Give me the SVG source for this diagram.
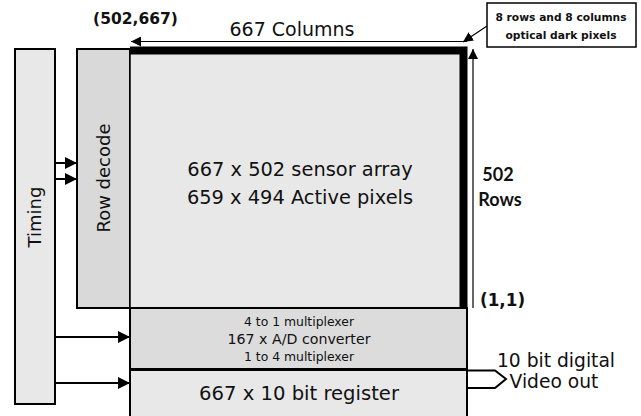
<svg xmlns="http://www.w3.org/2000/svg" width="641" height="416" viewBox="0 0 641 416">
<style>
text{font-family:"DejaVu Sans",Verdana,sans-serif;fill:#111}
.b{font-weight:bold}
.lb{font-family:Lato,"DejaVu Sans",sans-serif;font-weight:bold}
.box{stroke:#000;stroke-width:2}
.ln{stroke:#000;stroke-width:2;fill:none}
</style>
<defs>
<marker id="ah" viewBox="0 0 10 10" refX="10" refY="5" markerWidth="10" markerHeight="10" markerUnits="userSpaceOnUse" orient="auto"><path d="M0,0L10,5L0,10z" fill="#000"/></marker>
<marker id="ahb" viewBox="0 0 10 10" refX="10" refY="5" markerWidth="12" markerHeight="12" markerUnits="userSpaceOnUse" orient="auto"><path d="M0,0L10,5L0,10z" fill="#000"/></marker>
</defs>
<rect width="641" height="416" fill="#fff"/>
<g id="timing">
<rect class="box" x="15" y="49" width="40" height="355" fill="#e8e8e8"/>
<text transform="translate(41,217) rotate(-90)" font-size="18" text-anchor="middle">Timing</text>
</g>
<g id="rowdecode">
<rect class="box" x="77" y="49" width="53" height="259" fill="#d9d9d9"/>
<text transform="translate(110,178) rotate(-90)" font-size="18" text-anchor="middle">Row decode</text>
</g>
<g id="array">
<rect x="130" y="49" width="333" height="259" fill="#e8e8e8" stroke="#000" stroke-width="1.5"/>
<path d="M130,50.5H463.5V308" fill="none" stroke="#000" stroke-width="8"/>
<text x="300" y="176" font-size="19.4" text-anchor="middle">667 x 502 sensor array</text>
<text x="300" y="204" font-size="19.4" text-anchor="middle">659 x 494 Active pixels</text>
</g>
<g id="mux">
<rect class="box" x="130" y="308" width="337" height="61" fill="#dcdcdc"/>
<text x="299" y="326" font-size="12.4" text-anchor="middle">4 to 1 multiplexer</text>
<text x="299" y="344" font-size="14.2" text-anchor="middle">167 x A/D converter</text>
<text x="299" y="361" font-size="12.4" text-anchor="middle">1 to 4 multiplexer</text>
</g>
<g id="register">
<rect x="130" y="369" width="337" height="50" fill="#e8e8e8" stroke="#000" stroke-width="2"/>
<line x1="130" y1="369.5" x2="467" y2="369.5" stroke="#000" stroke-width="3"/>
<text x="299" y="400" font-size="19.6" text-anchor="middle">667 x 10 bit register</text>
</g>
<g id="callout">
<rect x="487" y="3" width="149" height="44" fill="#fff" stroke="#000" stroke-width="1.5"/>
<text class="b" x="561" y="21" font-size="10.7" text-anchor="middle">8 rows and 8 columns</text>
<text class="b" x="561" y="39" font-size="10.7" text-anchor="middle">optical dark pixels</text>
</g>
<g id="labels">
<text class="b" x="135.5" y="24" font-size="15.5" text-anchor="middle">(502,667)</text>
<text x="292" y="36" font-size="19" text-anchor="middle">667 Columns</text>
<text class="lb" x="498" y="181" font-size="18" text-anchor="middle">502</text>
<text class="lb" x="500" y="206" font-size="18" text-anchor="middle">Rows</text>
<text class="b" x="480" y="306" font-size="16.8">(1,1)</text>
<text x="556" y="367" font-size="18.7" text-anchor="middle" fill="#000">10 bit digital</text>
<text x="554" y="388" font-size="18.7" text-anchor="middle" fill="#000">Video out</text>
</g>
<g id="connectors">
<line x1="55" y1="163" x2="77" y2="163" class="ln" stroke-width="2.5" marker-end="url(#ahb)"/>
<line x1="55" y1="179" x2="77" y2="179" class="ln" stroke-width="2.5" marker-end="url(#ahb)"/>
<line x1="55" y1="337" x2="130" y2="337" class="ln" stroke-width="2.5" marker-end="url(#ahb)"/>
<line x1="55" y1="383" x2="130" y2="383" class="ln" stroke-width="2.5" marker-end="url(#ahb)"/>
<line x1="467" y1="41.5" x2="131" y2="41.5" stroke="#000" stroke-width="1.2" marker-end="url(#ah)"/>
<line x1="473" y1="308" x2="473" y2="49" stroke="#000" stroke-width="1.2" marker-end="url(#ah)"/>
<line x1="487" y1="26" x2="463" y2="42" stroke="#000" stroke-width="1.2" marker-end="url(#ah)"/>
<path d="M467,370.5H495L506,379L495,388H467" class="ln" stroke-width="2.5"/>
</g>
</svg>
